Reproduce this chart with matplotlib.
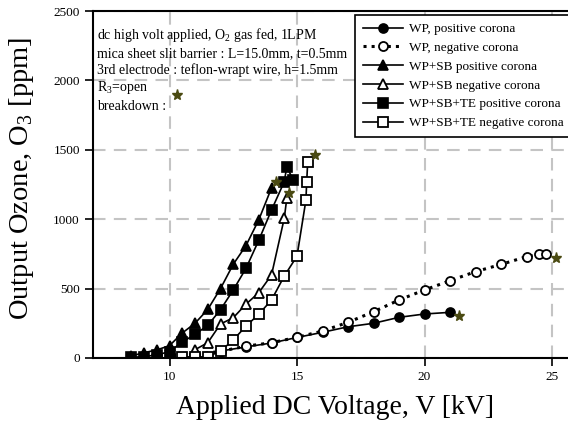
import matplotlib
matplotlib.use("Agg")
import matplotlib.pyplot as plt

plt.rcParams['font.family'] = ['Liberation Serif', 'DejaVu Serif']
plt.rcParams['mathtext.fontset'] = 'custom'
plt.rcParams['mathtext.rm'] = 'Liberation Serif'

# data (kV, ppm)
wp_pos_v = [12, 13, 14, 15, 16, 17, 18, 19, 20, 21]
wp_pos_o3 = [50, 80, 108, 148, 185, 225, 250, 293, 317, 329]

wp_neg_v = [9.5, 10, 11, 12, 13, 14, 15, 16, 17, 18, 19, 20, 21, 22, 23, 24, 24.5, 24.75]
wp_neg_o3 = [20, 20, 25, 48, 85, 110, 149, 194, 257, 333, 418, 490, 557, 622, 674, 730, 746, 746]

sb_pos_v = [8.5, 9, 9.5, 10, 10.5, 11, 11.5, 12, 12.5, 13, 13.5, 14]
sb_pos_o3 = [15, 38, 58, 89, 180, 250, 350, 500, 675, 810, 995, 1225]

sb_neg_v = [11, 11.5, 12, 12.5, 13, 13.5, 14, 14.5, 14.6]
sb_neg_o3 = [60, 110, 245, 290, 388, 470, 598, 1006, 1150]

te_pos_v = [8.5, 9, 9.5, 10, 10.5, 11, 11.5, 12, 12.5, 13, 13.5, 14, 14.5, 14.6, 14.85]
te_pos_o3 = [5, 10, 22, 46, 115, 170, 235, 348, 490, 646, 848, 1066, 1270, 1378, 1282]

te_neg_v = [10.5, 11, 11.5, 12, 12.5, 13, 13.5, 14, 14.5, 15, 15.35, 15.38, 15.42]
te_neg_o3 = [8, 8, 8, 50, 130, 230, 315, 418, 590, 734, 1138, 1268, 1414]

# breakdown points, plus the key star next to the text
bd_v = [21.35, 25.14, 14.16, 14.68, 15.7]
bd_o3 = [302, 718, 1270, 1186, 1462]
bd_key_v = [10.3]
bd_key_o3 = [1894]

x_ticks = [10, 15, 20, 25]
y_ticks = [0, 500, 1000, 1500, 2000, 2500]

notes = ["dc high volt applied, O$_2$ gas fed, 1LPM",
         "mica sheet slit barrier : L=15.0mm, t=0.5mm",
         "3rd electrode : teflon-wrapt wire, h=1.5mm",
         "R$_3$=open",
         "breakdown :"]
note_y = [0.958, 0.895, 0.850, 0.803, 0.744]

star_col = '#4a4a12'

fig = plt.figure(figsize=(5.68, 4.30), dpi=100)
ax = fig.add_axes([93 / 568, 72 / 430, 19 * 25.5 / 568, 347 / 430])

lw = 1.2
ax.plot(wp_pos_v, wp_pos_o3, '-o', color='k', lw=lw, ms=6.5, mfc='k', mec='k', mew=1.2,
        label='WP, positive corona')
ax.plot(wp_neg_v, wp_neg_o3, ':o', color='k', lw=2.2, ms=6.5, mfc='white', mec='k', mew=1.3,
        label='WP, negative corona')
ax.plot(sb_pos_v, sb_pos_o3, '-^', color='k', lw=lw, ms=7.5, mfc='k', mec='k', mew=1.2,
        label='WP+SB positive corona')
ax.plot(sb_neg_v, sb_neg_o3, '-^', color='k', lw=lw, ms=7.5, mfc='white', mec='k', mew=1.3,
        label='WP+SB negative corona')
ax.plot(te_pos_v, te_pos_o3, '-s', color='k', lw=lw, ms=6.5, mfc='k', mec='k', mew=1.2,
        label='WP+SB+TE positive corona')
ax.plot(te_neg_v, te_neg_o3, '-s', color='k', lw=lw, ms=6.5, mfc='white', mec='k', mew=1.3,
        label='WP+SB+TE negative corona')
ax.plot(bd_v, bd_o3, '*', color=star_col, ms=8, mec=star_col, zorder=5)
ax.plot(bd_key_v, bd_key_o3, '*', color=star_col, ms=8, mec=star_col, zorder=5)

ax.set_xlim(7, 26)
ax.set_ylim(0, 2500)
ax.set_xticks(x_ticks)
ax.set_yticks(y_ticks)
ax.tick_params(direction='out', length=6, width=1.2, labelsize=9.5)
ax.grid(True, color='#c4c4c4', lw=1.5, ls=(0, (6, 4)))
ax.set_axisbelow(True)
ax.spines['right'].set_visible(False)
for s in ['left', 'bottom', 'top']:
    ax.spines[s].set_linewidth(1.5)

for t, yy in zip(notes, note_y):
    ax.text(0.008, yy, t, transform=ax.transAxes, fontsize=10, va='top', ha='left')

fig.text(22 / 568, 1 - 178 / 430, 'Output Ozone, O$_3$ [ppm]', rotation=90,
         fontsize=20.5, ha='center', va='center')
fig.text(335 / 568, 1 - 408 / 430, 'Applied DC Voltage, V [kV]',
         fontsize=20, ha='center', va='center')

leg = ax.legend(loc='upper left', bbox_to_anchor=(355 / 568, 1 - 15 / 430),
                bbox_transform=fig.transFigure, borderaxespad=0, fontsize=9.5,
                frameon=True, fancybox=False, edgecolor='k', framealpha=1,
                handlelength=3.0, handletextpad=0.5, labelspacing=0.5,
                borderpad=0.6)
leg.get_frame().set_linewidth(1.2)

plt.savefig("out.png", dpi=100)
